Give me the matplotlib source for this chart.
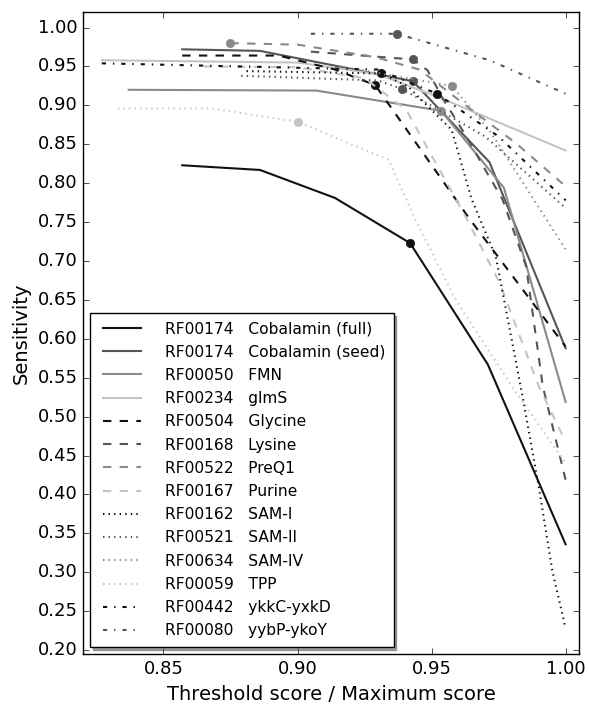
import numpy as np
import matplotlib
matplotlib.use('Agg')
import matplotlib.pyplot as plt

plt.style.use('classic')

# =========================================================
#                           data
# =========================================================
acc = ['RF00174', 'RF00174', 'RF00050', 'RF00234', 'RF00504', 'RF00168', 'RF00522',
       'RF00167', 'RF00162', 'RF00521', 'RF00634', 'RF00059', 'RF00442', 'RF00080']
names = ['Cobalamin (full)', 'Cobalamin (seed)', 'FMN', 'glmS', 'Glycine', 'Lysine', 'PreQ1',
         'Purine', 'SAM-I', 'SAM-II', 'SAM-IV', 'TPP', 'ykkC-yxkD', 'yybP-ykoY']

cob_full_x = [0.857, 0.886, 0.914, 0.942, 0.971, 1.0]
cob_full_y = [0.823, 0.817, 0.781, 0.723, 0.567, 0.336]
cob_seed_x = [0.857, 0.886, 0.914, 0.943, 0.9716, 1.0]
cob_seed_y = [0.972, 0.970, 0.951, 0.931, 0.827, 0.588]
fmn_x = [0.837, 0.907, 0.9536, 0.977, 1.0]
fmn_y = [0.920, 0.919, 0.893, 0.794, 0.519]
glms_x = [0.827, 0.90, 0.93, 0.953, 1.0]
glms_y = [0.958, 0.955, 0.94, 0.91, 0.842]
gly_x = [0.857, 0.893, 0.914, 0.929, 0.964, 1.0]
gly_y = [0.964, 0.964, 0.946, 0.926, 0.755, 0.59]
lys_x = [0.905, 0.943, 0.9485, 0.9545, 0.963, 0.9694, 0.9765, 0.9853, 0.9915, 1.0]
lys_y = [0.969, 0.959, 0.945, 0.907, 0.86, 0.821, 0.779, 0.693, 0.539, 0.419]
preq_x = [0.875, 0.90, 0.929, 0.9455, 0.965, 0.9816, 1.0]
preq_y = [0.980, 0.978, 0.962, 0.946, 0.894, 0.851, 0.796]
pur_x = [0.865, 0.90, 0.925, 0.9406, 0.963, 0.9754, 0.990, 1.0]
pur_y = [0.950, 0.949, 0.935, 0.894, 0.755, 0.672, 0.539, 0.468]
sam1_x = [0.881, 0.931, 0.941, 0.9575, 0.965, 0.974, 0.984, 0.990, 0.995, 1.0]
sam1_y = [0.944, 0.941, 0.925, 0.8685, 0.779, 0.705, 0.525, 0.41, 0.303, 0.228]
sam2_x = [0.879, 0.93, 0.939, 0.97, 1.0]
sam2_y = [0.938, 0.932, 0.921, 0.86, 0.768]
sam4_x = [0.916, 0.9576, 0.9716, 1.0]
sam4_y = [0.950, 0.925, 0.868, 0.715]
tpp_x = [0.833, 0.868, 0.900, 0.934, 0.944, 0.959, 0.980, 1.0]
tpp_y = [0.896, 0.896, 0.879, 0.83, 0.753, 0.65, 0.539, 0.44]
ykkc_x = [0.827, 0.93, 0.952, 0.975, 1.0]
ykkc_y = [0.954, 0.946, 0.915, 0.86, 0.778]
yybp_x = [0.905, 0.937, 0.9716, 1.0]
yybp_y = [0.992, 0.992, 0.958, 0.915]

xs = [cob_full_x, cob_seed_x, fmn_x, glms_x, gly_x, lys_x, preq_x,
      pur_x, sam1_x, sam2_x, sam4_x, tpp_x, ykkc_x, yybp_x]
ys = [cob_full_y, cob_seed_y, fmn_y, glms_y, gly_y, lys_y, preq_y,
      pur_y, sam1_y, sam2_y, sam4_y, tpp_y, ykkc_y, yybp_y]

# highlighted point per family (None = no marker)
mark_x = [0.942, 0.943, 0.9536, None, 0.929, 0.943, 0.875,
          None, 0.931, 0.939, 0.9576, 0.900, 0.952, 0.937]
mark_y = [0.723, 0.931, 0.893, None, 0.926, 0.959, 0.980,
          None, 0.941, 0.921, 0.925, 0.879, 0.915, 0.992]

grays = ['#111111', '#555555', '#8a8a8a', '#c4c4c4']
colors = grays * 3 + grays[:2]
styles = ['-'] * 4 + ['--'] * 4 + [':'] * 4 + ['-.'] * 2

# =========================================================
#                           plot
# =========================================================
fig = plt.figure(figsize=(5.89, 7.04), dpi=100, facecolor='white')
ax = fig.add_axes([0.141, 0.071, 0.842, 0.912])

for i in range(len(xs)):
    ax.plot(xs[i], ys[i], color=colors[i], ls=styles[i], lw=1.5,
            label='%s   %s' % (acc[i], names[i]))
    if mark_x[i] is not None:
        ax.plot(mark_x[i], mark_y[i], 'o', color=colors[i], mec=colors[i], ms=6)

ax.set_xlim(0.82, 1.005)
ax.set_ylim(0.195, 1.02)
ax.set_xticks([0.85, 0.90, 0.95, 1.00])
ax.set_yticks(np.arange(0.20, 1.001, 0.05))
ax.xaxis.set_major_formatter(matplotlib.ticker.FormatStrFormatter('%.2f'))
ax.yaxis.set_major_formatter(matplotlib.ticker.FormatStrFormatter('%.2f'))
ax.tick_params(labelsize=13)
ax.set_xlabel('Threshold score / Maximum score', fontsize=14)
ax.set_ylabel('Sensitivity', fontsize=14)

leg = ax.legend(loc='lower left', fontsize=11.2, shadow=True, handlelength=3,
                labelspacing=0.53, handletextpad=1.25, borderpad=0.55,
                borderaxespad=0.45)

fig.savefig('out.png', dpi=100, facecolor='white')
